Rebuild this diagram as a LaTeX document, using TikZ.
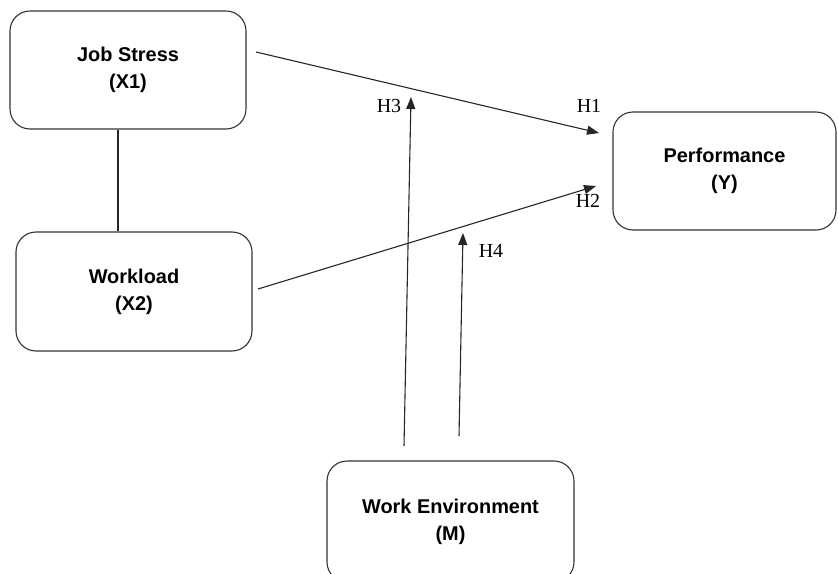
\documentclass[tikz,border=0pt]{standalone}
\usepackage{fontspec}
\setmainfont{Liberation Serif}
\setsansfont{Liberation Sans}
\usetikzlibrary{arrows.meta}
\begin{document}
\begin{tikzpicture}[x=1bp,y=-1bp,
  box/.style={draw=black!80, line width=1.1bp, rounded corners=20bp, align=center,
    font=\sffamily\bfseries\fontsize{20}{27}\selectfont, inner sep=0pt},
  link/.style={draw=black!85, line width=1.1bp, -{Triangle[length=12bp,width=9bp]}},
  plain/.style={draw=black!85, line width=1.1bp},
  hlab/.style={font=\fontsize{20}{22}\selectfont, inner sep=0pt}]
\useasboundingbox (0,0) rectangle (838,574);
\begin{scope}
\clip (0,0) rectangle (838,574);
\node[box, minimum width=236bp, minimum height=118bp] (js) at (128,70) {Job Stress\\(X1)};
\node[box, minimum width=236bp, minimum height=119bp] (wl) at (134,291.5) {Workload\\(X2)};
\node[box, minimum width=223bp, minimum height=118bp] (pf) at (724.5,171) {Performance\\(Y)};
\node[box, minimum width=247bp, minimum height=121bp] (we) at (450.5,521.5) {Work Environment\\(M)};
\end{scope}
\coordinate (h1s) at (256,52);
\coordinate (h1e) at (599,133);
\coordinate (h2s) at (258,289);
\coordinate (h2e) at (596,186);
\coordinate (h3s) at (404,446);
\coordinate (h3e) at (411,97);
\coordinate (h4s) at (459,436);
\coordinate (h4e) at (463,233);
\draw[plain] ([xshift=-10bp]js.south) -- ([xshift=-10bp]js.south |- wl.north);
\draw[link] (h1s) -- (h1e);
\draw[link] (h2s) -- (h2e);
\draw[link] (h3s) -- (h3e);
\draw[link] (h4s) -- (h4e);
\node[hlab] (l1) at (589,106) {H1};
\node[hlab] (l2) at (588,201) {H2};
\node[hlab] (l3) at (389,106) {H3};
\node[hlab] (l4) at (491,251) {H4};
\end{tikzpicture}
\end{document}
